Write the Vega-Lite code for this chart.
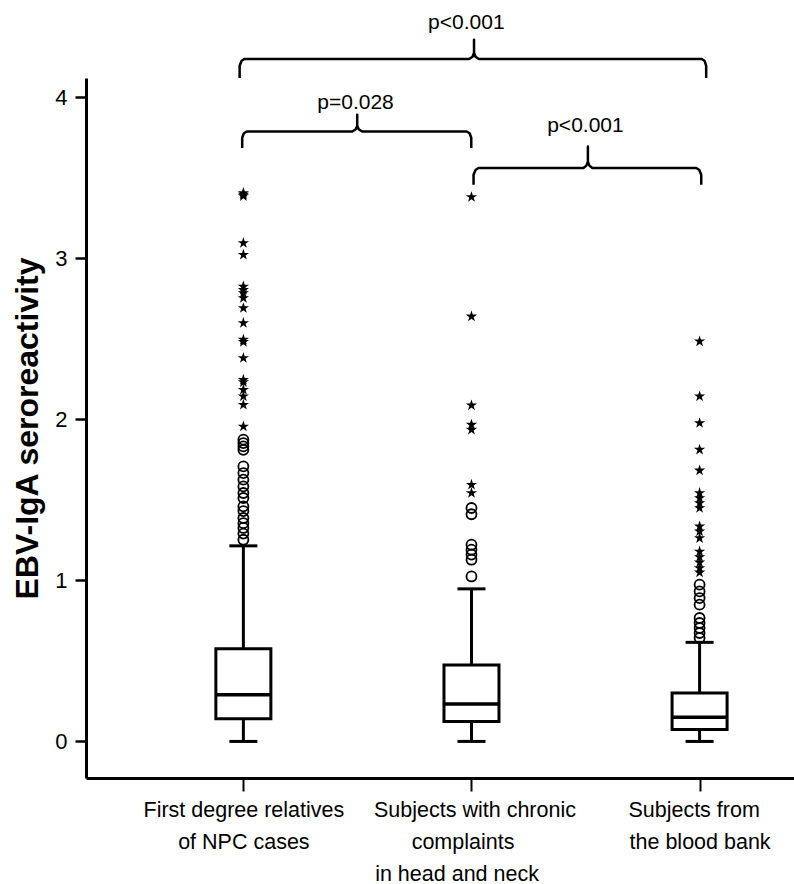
{
  "$schema": "https://vega.github.io/schema/vega-lite/v6.json",
  "width": 708,
  "height": 700,
  "autosize": {"type": "none"},
  "padding": {"left": 86, "top": 78, "right": 0, "bottom": 106},
  "background": "white",
  "config": {"view": {"stroke": null}, "font": "Liberation Sans"},
  "datasets": {
    "boxes": [
      {"g": 1, "lower": 0, "q1": 0.14, "median": 0.289, "q3": 0.576, "upper": 1.214},
      {"g": 2, "lower": 0, "q1": 0.124, "median": 0.233, "q3": 0.475, "upper": 0.947},
      {"g": 3, "lower": 0, "q1": 0.074, "median": 0.15, "q3": 0.30, "upper": 0.615}
    ],
    "circles": [
      {"g": 1, "v": 1.873}, {"g": 1, "v": 1.852}, {"g": 1, "v": 1.831}, {"g": 1, "v": 1.810},
      {"g": 1, "v": 1.707}, {"g": 1, "v": 1.666}, {"g": 1, "v": 1.625}, {"g": 1, "v": 1.583},
      {"g": 1, "v": 1.542}, {"g": 1, "v": 1.511}, {"g": 1, "v": 1.459}, {"g": 1, "v": 1.430},
      {"g": 1, "v": 1.387}, {"g": 1, "v": 1.355}, {"g": 1, "v": 1.325}, {"g": 1, "v": 1.290},
      {"g": 1, "v": 1.252},
      {"g": 2, "v": 1.449}, {"g": 2, "v": 1.410}, {"g": 2, "v": 1.221}, {"g": 2, "v": 1.190},
      {"g": 2, "v": 1.160}, {"g": 2, "v": 1.128}, {"g": 2, "v": 1.024},
      {"g": 3, "v": 0.973}, {"g": 3, "v": 0.931}, {"g": 3, "v": 0.890}, {"g": 3, "v": 0.849},
      {"g": 3, "v": 0.766}, {"g": 3, "v": 0.735}, {"g": 3, "v": 0.704}, {"g": 3, "v": 0.673},
      {"g": 3, "v": 0.642}
    ],
    "stars": [
      {"g": 1, "v": 3.404}, {"g": 1, "v": 3.395}, {"g": 1, "v": 3.385}, {"g": 1, "v": 3.094},
      {"g": 1, "v": 3.021}, {"g": 1, "v": 2.824}, {"g": 1, "v": 2.803}, {"g": 1, "v": 2.783},
      {"g": 1, "v": 2.752}, {"g": 1, "v": 2.690}, {"g": 1, "v": 2.597}, {"g": 1, "v": 2.494},
      {"g": 1, "v": 2.480}, {"g": 1, "v": 2.380}, {"g": 1, "v": 2.245}, {"g": 1, "v": 2.230},
      {"g": 1, "v": 2.183}, {"g": 1, "v": 2.142}, {"g": 1, "v": 2.090}, {"g": 1, "v": 1.955},
      {"g": 2, "v": 3.379}, {"g": 2, "v": 2.638}, {"g": 2, "v": 2.086}, {"g": 2, "v": 1.966},
      {"g": 2, "v": 1.935}, {"g": 2, "v": 1.593}, {"g": 2, "v": 1.542},
      {"g": 3, "v": 2.483}, {"g": 3, "v": 2.142}, {"g": 3, "v": 1.976}, {"g": 3, "v": 1.811},
      {"g": 3, "v": 1.682}, {"g": 3, "v": 1.542}, {"g": 3, "v": 1.511}, {"g": 3, "v": 1.480},
      {"g": 3, "v": 1.449}, {"g": 3, "v": 1.335}, {"g": 3, "v": 1.304}, {"g": 3, "v": 1.262},
      {"g": 3, "v": 1.179}, {"g": 3, "v": 1.145}, {"g": 3, "v": 1.111}, {"g": 3, "v": 1.076},
      {"g": 3, "v": 1.049}
    ],
    "brackets": [
      {"b": "b1", "ord": 1, "g": 0.9948, "v": 3.683}, {"b": "b1", "ord": 2, "g": 0.9948, "v": 3.747},
      {"b": "b1", "ord": 3, "g": 1.0022, "v": 3.775}, {"b": "b1", "ord": 4, "g": 1.0151, "v": 3.786},
      {"b": "b1", "ord": 5, "g": 1.4775, "v": 3.786}, {"b": "b1", "ord": 6, "g": 1.4927, "v": 3.800},
      {"b": "b1", "ord": 7, "g": 1.4991, "v": 3.822}, {"b": "b1", "ord": 8, "g": 1.4991, "v": 3.890},
      {"b": "b1", "ord": 9, "g": 1.4991, "v": 3.822}, {"b": "b1", "ord": 10, "g": 1.5056, "v": 3.800},
      {"b": "b1", "ord": 11, "g": 1.5207, "v": 3.786}, {"b": "b1", "ord": 12, "g": 1.9788, "v": 3.786},
      {"b": "b1", "ord": 13, "g": 1.9918, "v": 3.775}, {"b": "b1", "ord": 14, "g": 1.9991, "v": 3.747},
      {"b": "b1", "ord": 15, "g": 1.9991, "v": 3.683},
      {"b": "b2", "ord": 1, "g": 2.0091, "v": 3.456}, {"b": "b2", "ord": 2, "g": 2.0091, "v": 3.518},
      {"b": "b2", "ord": 3, "g": 2.0177, "v": 3.547}, {"b": "b2", "ord": 4, "g": 2.0307, "v": 3.559},
      {"b": "b2", "ord": 5, "g": 2.4909, "v": 3.559}, {"b": "b2", "ord": 6, "g": 2.5039, "v": 3.574},
      {"b": "b2", "ord": 7, "g": 2.5104, "v": 3.598}, {"b": "b2", "ord": 8, "g": 2.5104, "v": 3.693},
      {"b": "b2", "ord": 9, "g": 2.5104, "v": 3.598}, {"b": "b2", "ord": 10, "g": 2.5169, "v": 3.574},
      {"b": "b2", "ord": 11, "g": 2.5298, "v": 3.559}, {"b": "b2", "ord": 12, "g": 2.9857, "v": 3.559},
      {"b": "b2", "ord": 13, "g": 2.9987, "v": 3.547}, {"b": "b2", "ord": 14, "g": 3.0073, "v": 3.518},
      {"b": "b2", "ord": 15, "g": 3.0073, "v": 3.456},
      {"b": "b3", "ord": 1, "g": 0.9836, "v": 4.118}, {"b": "b3", "ord": 2, "g": 0.9836, "v": 4.194},
      {"b": "b3", "ord": 3, "g": 0.9914, "v": 4.223}, {"b": "b3", "ord": 4, "g": 1.0043, "v": 4.236},
      {"b": "b3", "ord": 5, "g": 1.9896, "v": 4.236}, {"b": "b3", "ord": 6, "g": 2.0048, "v": 4.250},
      {"b": "b3", "ord": 7, "g": 2.0112, "v": 4.275}, {"b": "b3", "ord": 8, "g": 2.0112, "v": 4.356},
      {"b": "b3", "ord": 9, "g": 2.0112, "v": 4.275}, {"b": "b3", "ord": 10, "g": 2.0177, "v": 4.250},
      {"b": "b3", "ord": 11, "g": 2.0328, "v": 4.236}, {"b": "b3", "ord": 12, "g": 3.0095, "v": 4.236},
      {"b": "b3", "ord": 13, "g": 3.0225, "v": 4.223}, {"b": "b3", "ord": 14, "g": 3.0289, "v": 4.194},
      {"b": "b3", "ord": 15, "g": 3.0289, "v": 4.118}
    ],
    "pvalues": [
      {"label": "p<0.001", "g": 1.9775, "v": 4.422},
      {"label": "p=0.028", "g": 1.4918, "v": 3.926},
      {"label": "p<0.001", "g": 2.4996, "v": 3.780}
    ]
  },
  "encoding": {
    "x": {
      "field": "g",
      "type": "quantitative",
      "scale": {"domain": [0.332, 3.392], "nice": false, "zero": false},
      "axis": {
        "title": null,
        "grid": false,
        "values": [1, 2, 3],
        "domainColor": "black",
        "domainWidth": 3,
        "tickColor": "black",
        "tickSize": 13,
        "tickWidth": 2,
        "labelFont": "Liberation Sans",
        "labelFontSize": 21.5,
        "labelColor": "black",
        "labelPadding": 8,
        "labelLineHeight": 32,
        "labelLimit": 0,
        "labelOverlap": false,
        "labelBound": false,
        "labelFlush": false,
        "labelExpr": "datum.value == 1 ? ['First degree relatives', 'of NPC cases'] : datum.value == 2 ? ['\u200b\u00a0Subjects with chronic', 'complaints\u00a0\u00a0\u00a0\u200b', 'in head and neck\u00a0\u00a0\u00a0\u00a0\u00a0\u200b'] : ['Subjects from\u00a0\u00a0\u200b', 'the blood bank']"
      }
    },
    "y": {
      "field": "v",
      "type": "quantitative",
      "scale": {"domain": [-0.227, 4.118], "nice": false, "zero": false},
      "axis": {
        "title": "EBV-IgA seroreactivity",
        "titleFont": "Liberation Sans",
        "titleFontSize": 32,
        "titleFontWeight": "bold",
        "titleColor": "black",
        "titlePadding": 10,
        "grid": false,
        "values": [0, 1, 2, 3, 4],
        "format": "d",
        "domainColor": "black",
        "domainWidth": 3,
        "tickColor": "black",
        "tickSize": 11,
        "tickWidth": 2.5,
        "labelFont": "Liberation Sans",
        "labelFontSize": 22,
        "labelColor": "black",
        "labelPadding": 8
      }
    }
  },
  "layer": [
    {
      "data": {"name": "boxes"},
      "mark": {"type": "rule", "color": "black", "strokeWidth": 3, "opacity": 1},
      "encoding": {
        "y": {"field": "lower", "type": "quantitative"},
        "y2": {"field": "upper"}
      }
    },
    {
      "data": {"name": "boxes"},
      "mark": {"type": "tick", "orient": "horizontal", "color": "black", "opacity": 1, "size": 28, "thickness": 3},
      "encoding": {"y": {"field": "lower", "type": "quantitative"}}
    },
    {
      "data": {"name": "boxes"},
      "mark": {"type": "tick", "orient": "horizontal", "color": "black", "opacity": 1, "size": 28, "thickness": 3},
      "encoding": {"y": {"field": "upper", "type": "quantitative"}}
    },
    {
      "data": {"name": "boxes"},
      "mark": {"type": "bar", "width": 55, "fill": "white", "stroke": "black", "strokeWidth": 3, "opacity": 1},
      "encoding": {
        "y": {"field": "q1", "type": "quantitative"},
        "y2": {"field": "q3"}
      }
    },
    {
      "data": {"name": "boxes"},
      "mark": {"type": "tick", "orient": "horizontal", "color": "black", "opacity": 1, "size": 56, "thickness": 3.5},
      "encoding": {"y": {"field": "median", "type": "quantitative"}}
    },
    {
      "data": {"name": "circles"},
      "mark": {"type": "point", "shape": "circle", "filled": false, "stroke": "black", "strokeWidth": 1.8, "size": 100, "opacity": 1}
    },
    {
      "data": {"name": "stars"},
      "mark": {"type": "point", "shape": "M0,-1L0.2245,-0.309L0.9511,-0.309L0.3633,0.118L0.5878,0.809L0,0.382L-0.5878,0.809L-0.3633,0.118L-0.9511,-0.309L-0.2245,-0.309Z", "filled": true, "fill": "black", "size": 140, "opacity": 1}
    },
    {
      "data": {"name": "brackets"},
      "mark": {"type": "line", "color": "black", "strokeWidth": 2.5, "strokeJoin": "round"},
      "encoding": {
        "detail": {"field": "b"},
        "order": {"field": "ord", "type": "quantitative"}
      }
    },
    {
      "data": {"name": "pvalues"},
      "mark": {"type": "text", "font": "Liberation Sans", "fontSize": 21, "color": "black", "align": "center", "baseline": "alphabetic"},
      "encoding": {"text": {"field": "label"}}
    }
  ]
}
